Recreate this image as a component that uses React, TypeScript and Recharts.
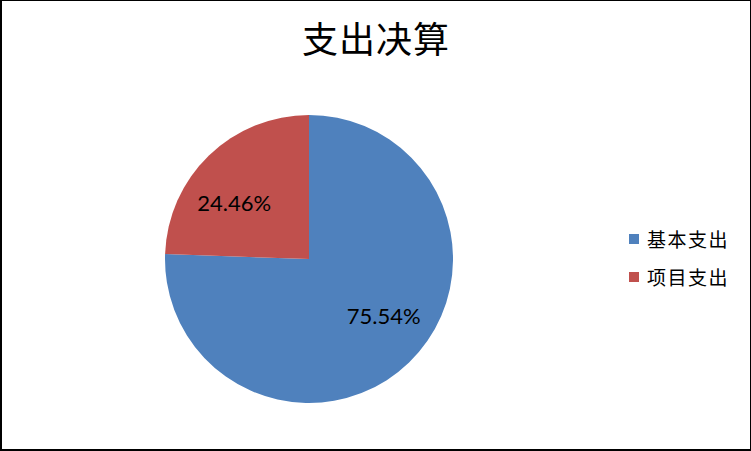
import { PieChart, Pie, Cell, Legend } from "recharts";

const categories = ["基本支出", "项目支出"];
const shares = [75.54, 24.46];
const colors = ["#4F81BD", "#C0504D"];

const data = categories.map((name, i) => ({ name, value: shares[i] }));

const RAD = Math.PI / 180;

// eslint-disable-next-line @typescript-eslint/no-explicit-any
function SliceLabel({ cx, cy, midAngle, outerRadius, value }: any) {
  // Excel nudges inside labels a bit toward the horizontal
  const tilt = Math.abs(midAngle) % 180 < 90 ? -9 : 11;
  const a = (midAngle + (midAngle > 90 ? tilt : -tilt)) * RAD;
  const r = outerRadius * 0.65;
  const x = cx + r * Math.cos(a);
  const y = cy - r * Math.sin(a);
  return (
    <text
      x={x}
      y={y}
      textAnchor="middle"
      dominantBaseline="central"
      fill="#000"
      fontSize={22}
      fontFamily="Lato, 'Noto Sans', sans-serif"
    >
      {value.toFixed(2)}%
    </text>
  );
}

function LegendBox() {
  return (
    <div>
      {data.map((d, i) => (
        <div
          key={d.name}
          style={{ display: "flex", alignItems: "center", height: 38 }}
        >
          <span
            style={{
              width: 10,
              height: 10,
              background: colors[i],
              display: "inline-block",
              marginRight: 8,
            }}
          />
          <span
            style={{
              fontSize: 19,
              letterSpacing: 1.5,
              color: "#000",
              fontFamily: "'Noto Sans CJK SC', sans-serif",
              lineHeight: "38px",
            }}
          >
            {d.name}
          </span>
        </div>
      ))}
    </div>
  );
}

export default function App() {
  return (
    <div
      style={{
        position: "absolute",
        left: 0,
        top: 0,
        width: 751,
        height: 451,
        boxSizing: "border-box",
        border: "1px solid #000",
        borderLeftWidth: 2,
        borderBottomWidth: 2,
        background: "#fff",
        fontFamily: "'Noto Sans CJK SC', sans-serif",
      }}
    >
      <div
        style={{
          position: "absolute",
          left: 0,
          right: 0,
          top: 10,
          textAlign: "center",
          fontSize: 36,
          letterSpacing: 1,
          lineHeight: "52px",
          color: "#000",
        }}
      >
        支出决算
      </div>
      <div style={{ position: "absolute", left: -2, top: -1 }}>
        <PieChart
          width={749}
          height={449}
          margin={{ top: 0, right: 0, bottom: 0, left: 0 }}
        >
          <Pie
            data={data}
            dataKey="value"
            nameKey="name"
            cx={309}
            cy={259}
            outerRadius={144}
            startAngle={90}
            endAngle={-270}
            stroke="none"
            labelLine={false}
            label={SliceLabel}
            isAnimationActive={false}
          >
            {data.map((d, i) => (
              <Cell key={d.name} fill={colors[i]} />
            ))}
          </Pie>
          <Legend
            layout="vertical"
            align="right"
            verticalAlign="middle"
            wrapperStyle={{ left: 629, right: "auto", top: 220, width: 115 }}
            content={() => <LegendBox />}
          />
        </PieChart>
      </div>
    </div>
  );
}
